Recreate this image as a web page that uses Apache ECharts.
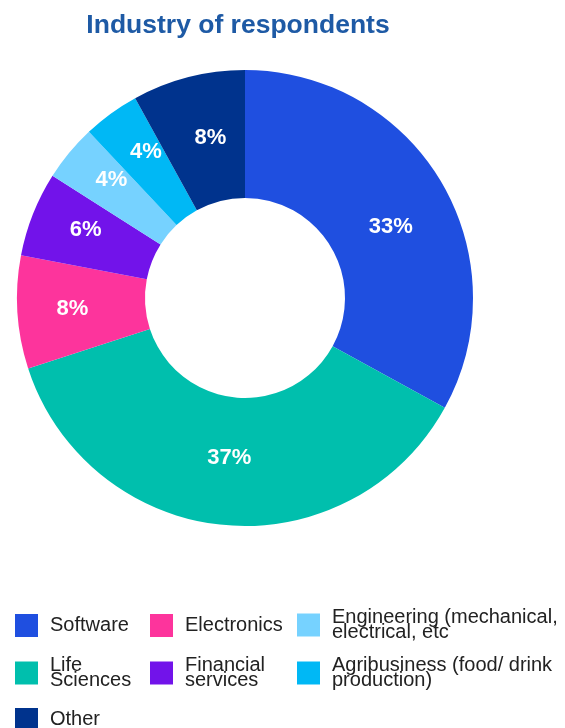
<!DOCTYPE html>
<html>
<head>
<meta charset="utf-8">
<script src="https://cdn.jsdelivr.net/npm/echarts@6/dist/echarts.min.js"></script>
<style>
  html, body { margin: 0; padding: 0; background: #ffffff; }
  #chart { width: 565px; height: 728px; }
</style>
</head>
<body>
<div id="chart"></div>
<script>
// Share of respondents by industry (percent), clockwise from 12 o'clock
var industries = [
  'Software',
  'Life Sciences',
  'Electronics',
  'Financial services',
  'Engineering (mechanical, electrical, etc',
  'Agribusiness (food/ drink production)',
  'Other'
];
var shares = [33, 37, 8, 6, 4, 4, 8];
var sliceColors = ['#1f4fe0', '#00bfad', '#fd349c', '#7213ea', '#76d2ff', '#00b8f5', '#00338d'];

// Small nudges for the percentage labels inside the ring
var labelNudges = [[2, 14], [0, -6], [-6, 0], [-4, -7], [-5, -12], [-1, -11], [7, 2]];

// Wrapped legend captions
var legendCaptions = {
  'Software': 'Software',
  'Life Sciences': 'Life\nSciences',
  'Electronics': 'Electronics',
  'Financial services': 'Financial\nservices',
  'Engineering (mechanical, electrical, etc': 'Engineering (mechanical,\nelectrical, etc',
  'Agribusiness (food/ drink production)': 'Agribusiness (food/ drink\nproduction)',
  'Other': 'Other'
};

// Legend grid: [name, left, top]
var legendSlots = [
  [industries[0], 15, 614],
  [industries[2], 150, 614],
  [industries[4], 297, 607.5],
  [industries[1], 15, 655.5],
  [industries[3], 150, 655.5],
  [industries[5], 297, 655.5],
  [industries[6], 15, 708]
];

var FONT = '"Liberation Sans", Arial, sans-serif';

var legends = legendSlots.map(function (s) {
  return {
    data: [s[0]],
    left: s[1],
    top: s[2],
    padding: 0,
    icon: 'rect',
    itemWidth: 23,
    itemHeight: 23,
    selectedMode: false,
    formatter: function (n) { return legendCaptions[n]; },
    textStyle: { fontFamily: FONT, fontSize: 20, lineHeight: 15, color: '#222222', padding: [0, 0, 0, 7] }
  };
});

var chart = echarts.init(document.getElementById('chart'), null, { renderer: 'canvas' });
chart.setOption({
  backgroundColor: '#ffffff',
  animation: false,
  title: {
    text: 'Industry of respondents',
    left: 233,
    textAlign: 'center',
    top: 7,
    textStyle: { fontFamily: FONT, fontSize: 26.5, fontWeight: 'bold', color: '#1e5aa5' }
  },
  legend: legends,
  series: [{
    type: 'pie',
    center: [245, 298],
    radius: [100, 228],
    startAngle: 90,
    clockwise: true,
    avoidLabelOverlap: false,
    emphasis: { disabled: true },
    label: {
      show: true,
      position: 'inside',
      formatter: '{c}%',
      color: '#ffffff',
      fontFamily: FONT,
      fontSize: 22,
      fontWeight: 'bold'
    },
    labelLine: { show: false },
    data: industries.map(function (n, i) {
      return {
        name: n,
        value: shares[i],
        itemStyle: { color: sliceColors[i] },
        label: { offset: labelNudges[i] }
      };
    })
  }]
});
</script>
</body>
</html>
